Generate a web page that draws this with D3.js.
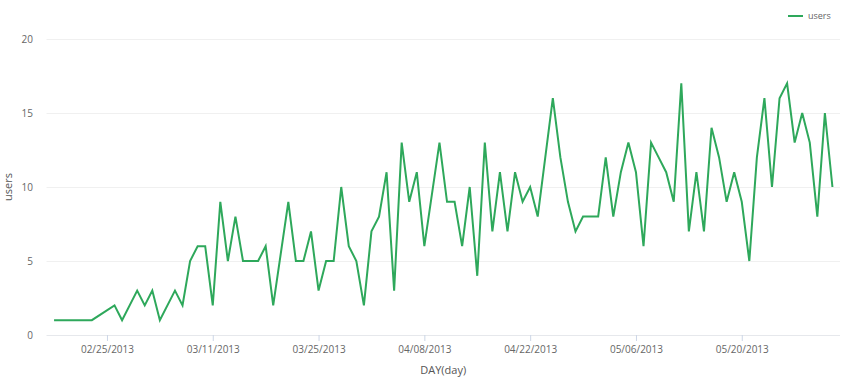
<!DOCTYPE html>
<html>
<head>
<meta charset="utf-8">
<script src="https://cdn.jsdelivr.net/npm/d3@7"></script>
<style>
  body { margin: 0; background: #fff; }
  svg { font-family: "Open Sans", sans-serif; display: block; }
  .tick-label { fill: #666; font-size: 10px; }
  .axis-title { fill: #555; font-size: 11px; }
</style>
</head>
<body>
<div id="chart"></div>
<script>
/* global d3 */
const dates = [
    '2013-02-18', '2013-02-23', '2013-02-26', '2013-02-27', '2013-03-01', '2013-03-02', '2013-03-03', '2013-03-04',
    '2013-03-06', '2013-03-07', '2013-03-08', '2013-03-09', '2013-03-10', '2013-03-11', '2013-03-12', '2013-03-13',
    '2013-03-14', '2013-03-15', '2013-03-16', '2013-03-17', '2013-03-18', '2013-03-19', '2013-03-21', '2013-03-22',
    '2013-03-23', '2013-03-24', '2013-03-25', '2013-03-26', '2013-03-27', '2013-03-28', '2013-03-29', '2013-03-30',
    '2013-03-31', '2013-04-01', '2013-04-02', '2013-04-03', '2013-04-04', '2013-04-05', '2013-04-06', '2013-04-07',
    '2013-04-08', '2013-04-10', '2013-04-11', '2013-04-12', '2013-04-13', '2013-04-14', '2013-04-15', '2013-04-16',
    '2013-04-17', '2013-04-18', '2013-04-19', '2013-04-20', '2013-04-21', '2013-04-22', '2013-04-23', '2013-04-24',
    '2013-04-25', '2013-04-26', '2013-04-27', '2013-04-28', '2013-04-29', '2013-04-30', '2013-05-01', '2013-05-02',
    '2013-05-03', '2013-05-04', '2013-05-05', '2013-05-06', '2013-05-07', '2013-05-08', '2013-05-09', '2013-05-10',
    '2013-05-11', '2013-05-12', '2013-05-13', '2013-05-14', '2013-05-15', '2013-05-16', '2013-05-17', '2013-05-18',
    '2013-05-19', '2013-05-20', '2013-05-21', '2013-05-22', '2013-05-23', '2013-05-24', '2013-05-25', '2013-05-26',
    '2013-05-27', '2013-05-28', '2013-05-29', '2013-05-30', '2013-05-31', '2013-06-01'
];
const users = [
    1, 1, 2, 1, 3, 2, 3, 1,
    3, 2, 5, 6, 6, 2, 9, 5,
    8, 5, 5, 5, 6, 2, 9, 5,
    5, 7, 3, 5, 5, 10, 6, 5,
    2, 7, 8, 11, 3, 13, 9, 11,
    6, 13, 9, 9, 6, 10, 4, 13,
    7, 11, 7, 11, 9, 10, 8, 12,
    16, 12, 9, 7, 8, 8, 8, 12,
    8, 11, 13, 11, 6, 13, 12, 11,
    9, 17, 7, 11, 7, 14, 12, 9,
    11, 9, 5, 12, 16, 10, 16, 17,
    13, 15, 13, 8, 15, 10
];
const xTickLabels = ['02/25/2013', '03/11/2013', '03/25/2013', '04/08/2013', '04/22/2013', '05/06/2013', '05/20/2013'];
const yTicks = [0, 5, 10, 15, 20];
const seriesName = 'users';

const width = 858;
const height = 379;
const plotLeft = 46.5, plotRight = 840, plotTop = 39, plotBottom = 335;
const lineColor = '#2ea85b';

const parseDay = d3.timeParse('%Y-%m-%d');
const parseTick = d3.timeParse('%m/%d/%Y');
const fmtTick = d3.timeFormat('%m/%d/%Y');

const data = dates.map((d, i) => ({date: parseDay(d), value: users[i]}));

const first = d3.timeDay.offset(data[0].date, -1);
const last = d3.timeDay.offset(data[data.length - 1].date, 1);

const x = d3.scaleTime().domain([first, last]).range([plotLeft, plotRight]);
const y = d3.scaleLinear().domain([0, 20]).range([plotBottom, plotTop]);

const svg = d3.select('#chart')
    .append('svg')
    .attr('width', width)
    .attr('height', height);

// horizontal grid
svg.append('g')
    .selectAll('line')
    .data(yTicks)
    .enter()
    .append('line')
    .attr('x1', plotLeft)
    .attr('x2', plotRight)
    .attr('y1', d => Math.round(y(d)) + 0.5)
    .attr('y2', d => Math.round(y(d)) + 0.5)
    .attr('stroke', d => d === 0 ? '#e6e8ec' : '#f0f0f0');

// y tick labels
svg.append('g')
    .selectAll('text')
    .data(yTicks)
    .enter()
    .append('text')
    .attr('class', 'tick-label')
    .attr('x', 33)
    .attr('y', d => y(d))
    .attr('dy', '0.35em')
    .attr('text-anchor', 'end')
    .text(d => d);

// x axis ticks
const xTicks = xTickLabels.map(parseTick);
const xAxis = svg.append('g')
    .attr('transform', `translate(0,${plotBottom})`)
    .call(d3.axisBottom(x).tickValues(xTicks).tickFormat(fmtTick).tickSize(6).tickPadding(5));
xAxis.select('.domain').remove();
xAxis.selectAll('.tick line').attr('stroke', '#ccd6e6');
xAxis.selectAll('.tick text')
    .attr('class', 'tick-label')
    .attr('fill', null)
    .style('font-family', '"Open Sans", sans-serif');

// axis titles
svg.append('text')
    .attr('class', 'axis-title')
    .attr('transform', `translate(12,${(plotTop + plotBottom) / 2}) rotate(-90)`)
    .attr('text-anchor', 'middle')
    .text(seriesName);

svg.append('text')
    .attr('class', 'axis-title')
    .attr('x', (plotLeft + plotRight) / 2)
    .attr('y', 374)
    .attr('text-anchor', 'middle')
    .text('DAY(day)');

// the line
const line = d3.line()
    .x(d => x(d.date))
    .y(d => y(d.value));

svg.append('path')
    .datum(data)
    .attr('fill', 'none')
    .attr('stroke', lineColor)
    .attr('stroke-width', 2)
    .attr('d', line);

// legend
const legend = svg.append('g').attr('transform', 'translate(788,16)');
legend.append('line')
    .attr('x1', 0).attr('x2', 15)
    .attr('stroke', lineColor)
    .attr('stroke-width', 2);
legend.append('text')
    .attr('x', 20)
    .attr('dy', '0.35em')
    .style('font-size', '9px')
    .style('fill', '#666')
    .text(seriesName);
</script>
</body>
</html>
